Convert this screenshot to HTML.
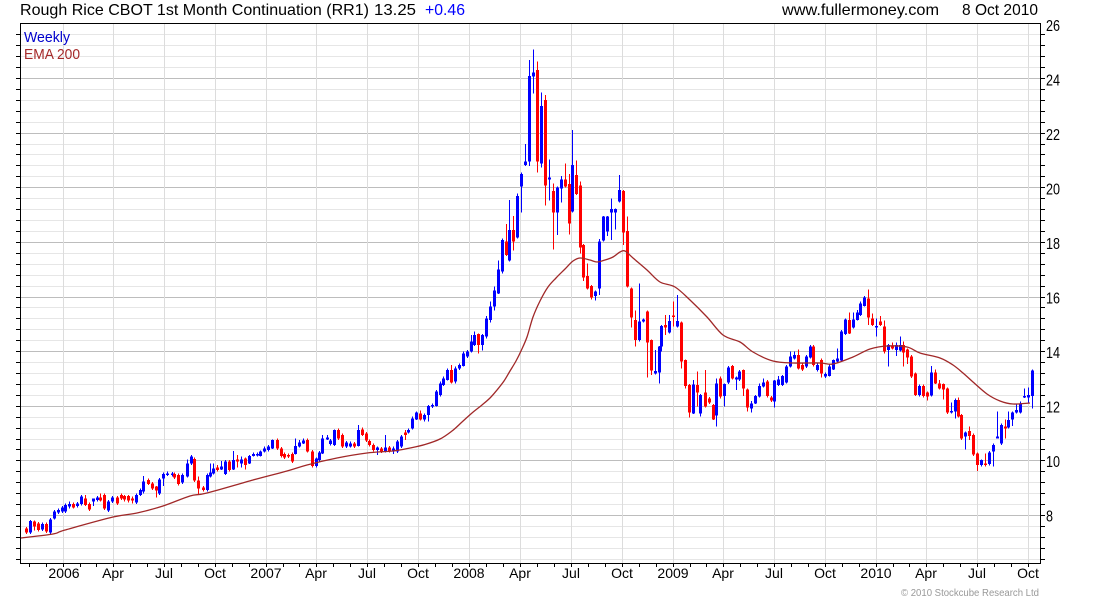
<!DOCTYPE html>
<html><head><meta charset="utf-8"><style>
html,body{margin:0;padding:0;background:#fff;}
svg{display:block;font-family:"Liberation Sans",Arial,sans-serif;}
</style></head><body>
<svg id="chart" width="1100" height="600" viewBox="0 0 1100 600" xmlns="http://www.w3.org/2000/svg">
<rect width="1100" height="600" fill="#fff"/>
<g id="grid" shape-rendering="crispEdges"></g>
<g id="candles" shape-rendering="crispEdges"></g>
<path id="ema" fill="none" stroke="#a02828" stroke-width="1.3" d=""/>
<g id="axes" shape-rendering="crispEdges" stroke="#000" stroke-width="1"></g>
<rect x="20.5" y="23.5" width="1020" height="540" fill="none" stroke="#000" stroke-width="1" shape-rendering="crispEdges"/>
<text x="20" y="15" font-size="16" fill="#000" textLength="349" lengthAdjust="spacingAndGlyphs">Rough Rice CBOT 1st Month Continuation (RR1)</text>
<text x="374" y="15" font-size="16" fill="#000" textLength="42" lengthAdjust="spacingAndGlyphs">13.25</text>
<text x="425" y="15" font-size="16" fill="#0000ff" textLength="40" lengthAdjust="spacingAndGlyphs">+0.46</text>
<text x="782" y="15" font-size="16" fill="#000" textLength="157" lengthAdjust="spacingAndGlyphs">www.fullermoney.com</text>
<text x="962" y="15" font-size="16" fill="#000" textLength="76" lengthAdjust="spacingAndGlyphs">8 Oct 2010</text>
<text x="24" y="42" font-size="15" fill="#0000cc" textLength="46" lengthAdjust="spacingAndGlyphs">Weekly</text>
<text x="24" y="59" font-size="15" fill="#a52a2a" textLength="56" lengthAdjust="spacingAndGlyphs">EMA 200</text>
<g font-size="16" fill="#000">
<text x="1046" y="31" textLength="14" lengthAdjust="spacingAndGlyphs">26</text>
<text x="1046" y="85.5" textLength="14" lengthAdjust="spacingAndGlyphs">24</text>
<text x="1046" y="140" textLength="14" lengthAdjust="spacingAndGlyphs">22</text>
<text x="1046" y="194.5" textLength="14" lengthAdjust="spacingAndGlyphs">20</text>
<text x="1046" y="249" textLength="14" lengthAdjust="spacingAndGlyphs">18</text>
<text x="1046" y="303.5" textLength="14" lengthAdjust="spacingAndGlyphs">16</text>
<text x="1046" y="358" textLength="14" lengthAdjust="spacingAndGlyphs">14</text>
<text x="1046" y="412.5" textLength="14" lengthAdjust="spacingAndGlyphs">12</text>
<text x="1046" y="467" textLength="14" lengthAdjust="spacingAndGlyphs">10</text>
<text x="1046" y="521.5" textLength="7" lengthAdjust="spacingAndGlyphs">8</text>
</g>
<g font-size="14" fill="#000" text-anchor="middle">
<text x="64" y="578">2006</text>
<text x="113" y="578">Apr</text>
<text x="164" y="578">Jul</text>
<text x="215" y="578">Oct</text>
<text x="266" y="578">2007</text>
<text x="316" y="578">Apr</text>
<text x="367" y="578">Jul</text>
<text x="418" y="578">Oct</text>
<text x="469" y="578">2008</text>
<text x="520" y="578">Apr</text>
<text x="571" y="578">Jul</text>
<text x="622" y="578">Oct</text>
<text x="673" y="578">2009</text>
<text x="723" y="578">Apr</text>
<text x="774" y="578">Jul</text>
<text x="825" y="578">Oct</text>
<text x="876" y="578">2010</text>
<text x="926" y="578">Apr</text>
<text x="977" y="578">Jul</text>
<text x="1028" y="578">Oct</text>
</g>
<text x="1039" y="596" font-size="10" fill="#999" text-anchor="end" textLength="138" lengthAdjust="spacingAndGlyphs">© 2010 Stockcube Research Ltd</text>
</svg>
<script>
(function(){
var NS='http://www.w3.org/2000/svg';
function el(tag,a,p){var e=document.createElementNS(NS,tag);for(var k in a)e.setAttribute(k,a[k]);p.appendChild(e);return e;}
var grid=document.getElementById('grid'),axes=document.getElementById('axes'),cg=document.getElementById('candles');
function Y(p){return 78+(24-p)*27.3125;}
for(var i=0;i<=49;i++){
  var p=6.4+i*0.4; var y=Math.round(Y(p))+0.5;
  if(y<24||y>563)continue;
  var major=Math.abs(p-Math.round(p))<0.01 && Math.round(p)%2===0;
  el('line',{x1:21,x2:1040,y1:y,y2:y,stroke:major?'#bdbdbd':'#e6e6e6','stroke-width':1},grid);
  el('line',{x1:16,x2:20,y1:y,y2:y},axes);
  el('line',{x1:1041,x2:1045,y1:y,y2:y},axes);
}
var base=Date.UTC(2006,0,1);
function DX(yr,m){return 63+(Date.UTC(yr,m,1)-base)/86400000*0.5565;}
for(var yr=2005;yr<=2010;yr++){for(var m=0;m<12;m++){
  var x=DX(yr,m); if(x<21||x>1039)continue;
  var xr=Math.round(x)+0.5;
  if(m%3===0) el('line',{x1:xr,x2:xr,y1:24,y2:563,stroke:'#dcdcdc','stroke-width':1},grid);
  el('line',{x1:xr,x2:xr,y1:564,y2:567},axes);
}}
var S=[[20,380,[
[18,0,445,458],[30,1,423,458,420,462],[42,0,425,440,422,452],[55,0,430,450],[67,1,432,448],[78,0,432,455],[90,1,418,458],[103,1,395,415,390,418],[115,1,390,398],[125,1,382,395],[136,1,375,395],[148,1,372,380,365,385],[160,0,372,382,368,385],[172,1,370,378],[183,1,350,372],[196,0,355,375,345,378],[208,0,372,388],[220,1,355,365,355,378],[232,1,353,360],[240,0,352,362,340,365],[252,0,345,385],[265,1,365,392,360,396],[277,1,352,365],[290,0,352,370],[302,0,345,355],[313,0,348,358,345,365],[325,0,348,362,345,368],[337,0,355,362,350,370],[348,1,345,368],[360,1,330,345,325,348],[370,1,305,335,288,340],[383,0,300,312,295,315],[395,0,310,325],[407,0,320,332,318,352],[418,1,298,340],[430,1,282,295,278,318],[442,1,280,285,275,288],[455,1,280,285],[463,0,282,292],[475,0,285,312],[487,1,285,308],[500,1,250,290,238,292],[512,1,230,250],[522,0,237,302],[535,0,302,325,290,342],[548,0,322,330],[560,1,285,330],[570,1,278,290,250,292],[580,1,265,280,250,283],[592,0,262,270,255,275],[604,1,260,268,243,270],[615,1,245,282,240,285],[628,0,245,270],[640,1,240,268,213,270],[652,0,238,245,225,262],[664,1,238,250,230,262],[676,0,235,255,232,268],[687,1,228,250,225,252],[698,1,222,228,218,230],[710,1,222,225],[720,1,215,228,212,230],[733,1,205,215,200,218],[745,1,200,210],[757,1,180,205,178,207],[770,0,180,205],[782,0,205,228],[793,0,222,232],[803,0,225,230],[815,0,222,245],[826,1,198,222,175,224],[838,1,188,200,180,202],[850,1,182,190,175,192],[862,0,180,215,175,217],[875,0,215,258],[887,1,235,258,232,262],[898,1,218,240],[907,1,175,220,165,222],[920,1,172,178,165,180],[931,1,182,192],[942,1,150,195,148,198],[955,0,150,175],[967,0,165,200],[979,1,188,200],[990,1,190,200,185,202],[1003,0,190,200],[1015,1,150,198,135,200],[1025,0,148,165,142,168],[1037,0,160,182],[1048,0,183,195],[1060,0,195,210],[1072,1,202,210,200,225],[1084,0,205,215],[1096,1,202,215,165,217],[1108,0,203,213],[1118,1,205,215,200,222],[1130,1,185,215],[1142,1,170,200],[1154,0,158,165,150,180],[1165,1,150,158,145,160],[1177,1,115,145,110,148],[1188,1,97,118,95,120]
]],[400,40,[
[61,0,1120,1138,1112,1142],[73,1,1125,1138,1120,1145],[85,1,1098,1125,1095,1145],[97,1,1095,1100],[107,1,1055,1098,1050,1100],[119,1,1030,1065,1025,1070],[130,1,1015,1035,1010,1038],[142,1,990,1020,985,1022],[154,0,990,1028,975,1030],[166,1,985,1025,980,1030],[178,1,975,985],[190,1,940,978,935,980],[202,1,935,950],[214,1,905,935,885,938],[223,1,885,915,875,918],[235,0,882,915,880,940],[247,1,885,915,882,932],[259,1,835,890,828,895],[271,1,800,840,785,848],[283,1,752,800,740,812],[295,1,688,760,662,762],[307,1,600,695,595,700],[319,0,605,645,552,648],[328,1,570,662,480,665],[340,0,570,605,528,632],[352,1,468,592,460,595],[364,1,402,440,398,518],[376,1,365,375,312,378],[388,1,108,365,60,378],[400,1,98,110,28,160],[412,0,90,365,65,398],[424,1,198,370,157,382],[436,0,180,437,165,497],[446,1,413,418,358,482],[458,0,453,518,430,628],[470,1,443,518,440,585],[482,1,418,445,408,488],[494,0,418,440,370,442],[506,0,432,550,402,583],[517,1,375,515,270,518],[529,0,405,462,362,465],[541,0,437,622,425,640],[550,0,615,713,612,723],[562,0,708,745,670,748],[574,0,738,773,735,778],[586,1,755,768,752,782],[598,1,605,745,597,765],[610,1,530,602,528,605],[622,1,530,575,528,588],[634,1,507,518,475,600],[646,1,507,518,505,568],[658,1,450,485,405,488],[668,0,453,578,450,615],[680,0,573,740,530,742],[692,0,745,833,742,862],[704,0,840,900,812,920],[716,1,845,900,730,905],[728,1,838,845,835,848],[740,0,815,908,812,1012],[752,0,900,992,898,1005],[764,1,993,1000,930,1003],[776,1,920,998,918,1030],[784,1,858,920,855,935],[796,0,855,862,825,885],[808,1,843,878,825,880],[820,0,826,830,785,860],[832,1,843,860,765,862],[844,0,847,965,845,985],[856,0,960,1038,958,1045],[868,0,1035,1118,1032,1132],[880,1,1033,1120,1020,1122],[892,0,1035,1058,995,1100]
]],[620,270,[
[241,1,375,430,372,440],[254,0,368,410,300,412],[266,0,385,398],[278,0,405,448,402,450],[289,1,340,437,325,470],[301,0,325,380,320,385],[313,1,342,378,340,410],[325,1,292,338],[337,0,288,325,285,328],[347,1,322,328,320,360],[358,1,305,328],[370,0,300,355,298,378],[382,0,358,412,355,425],[394,1,400,415,393,428],[406,1,378,400,375,402],[418,1,348,380,340,382],[430,1,338,350,325,352],[442,0,335,378],[452,0,383,392],[463,1,332,395,330,412],[475,1,328,345,318,348],[487,1,318,345,315,348],[499,1,290,338,285,340],[511,1,260,290,245,292],[523,1,255,265,245,268],[535,0,255,295,238,298],[547,0,285,298],[559,1,260,290],[569,1,230,262,225,265],[580,0,230,285],[592,1,285,300],[604,0,270,310,265,322],[616,1,312,320],[628,1,290,318,282,320],[640,1,270,298,268,300],[652,1,265,275,235,278],[664,1,185,272,180,275],[676,1,148,192,145,195],[686,0,150,190,128,192],[698,1,148,172,128,175],[710,1,128,150,120,152],[720,1,100,135,95,138],[732,1,82,108,78,110],[744,0,85,142,58,165],[756,0,145,165,130,168],[768,1,168,172,145,200],[780,0,155,165,138,168],[792,0,170,245,152,250],[803,1,225,240,222,290],[815,0,228,235,218,238],[827,1,225,240,218,258],[839,1,225,242,200,245],[850,0,225,248,215,290],[862,0,238,262,235,282],[874,0,260,320],[886,0,310,375,308,378],[898,1,348,375],[908,0,348,378],[920,0,368,380,365,392],[932,1,308,377,288,380],[944,0,308,340,298,342],[956,0,340,355,330,358],[968,0,342,358,340,388],[980,0,355,428,352,432],[992,1,423,428,398,430],[1004,1,390,425,385,445],[1013,0,390,440,382,442],[1024,0,435,505,432,510],[1036,1,488,500,485,538],[1048,0,483,498,470,510],[1060,0,495,553],[1072,0,550,585,548,603],[1084,1,570,585,568,590],[1096,0,580,585,550,590],[1108,1,548,582],[1120,1,525,545,520,590],[1130,1,500,505,425,505],[1142,1,465,520],[1154,0,470,475,448,505],[1165,1,450,472,425,475],[1177,1,428,448,425,468],[1189,1,420,428,400,430],[1201,1,400,428,395,430],[1213,1,378,382,355,384],[1225,1,375,382,352,398],[1237,1,302,378,298,415]
]]];
S.forEach(function(s){var ox=s[0],oy=s[1];s[2].forEach(function(c){
  var x=Math.round(ox+c[0]/3),t=oy+c[2]/3,b=oy+c[3]/3;
  var wh=c.length>4?oy+c[4]/3:t-1.5, wl=c.length>5?oy+c[5]/3:b+1.5;
  if(wh>t)wh=t; if(wl<b)wl=b;
  var col=c[1]?'#0000ff':'#ff0000';
  el('rect',{x:x,y:wh.toFixed(1),width:1,height:(wl-wh).toFixed(1),fill:col},cg);
  el('rect',{x:x-1,y:t.toFixed(1),width:3,height:Math.max(b-t,1.5).toFixed(1),fill:col},cg);
});});
var E=[[21,538],[53,534],[65,530],[113,517],[137,513],[163,506],[190,496],[207,493],[253,480],[287,471],[307,465],[337,458],[367,453],[393,451],[410,448],[425,444.5],[440,439],[452,431],[462,422],[472,413],[482,405],[490,398],[497,390],[504,381],[510,371],[516,361],[521,351],[527,337],[533,317],[540,301],[548,287],[556,278],[565,269],[573,261],[580,258],[590,260],[597,262],[605,260],[613,257],[620,252],[625,251],[633,258],[647,270],[660,282],[675,287],[690,300],[707,317],[723,335],[740,342],[753,352],[773,361],[793,363],[820,363],[833,364],[853,357],[870,349],[887,346],[907,347],[920,353],[940,358],[953,365],[963,373],[973,382],[987,394],[1000,401],[1013,404],[1030,403]];
var d='M'+E[0][0]+','+E[0][1];
for(var k=0;k<E.length-1;k++){
  var p0=E[k>0?k-1:0],p1=E[k],p2=E[k+1],p3=E[k+2<E.length?k+2:E.length-1];
  var c1x=p1[0]+(p2[0]-p0[0])/6,c1y=p1[1]+(p2[1]-p0[1])/6;
  var c2x=p2[0]-(p3[0]-p1[0])/6,c2y=p2[1]-(p3[1]-p1[1])/6;
  d+=' C'+c1x.toFixed(1)+','+c1y.toFixed(1)+' '+c2x.toFixed(1)+','+c2y.toFixed(1)+' '+p2[0]+','+p2[1];
}
document.getElementById('ema').setAttribute('d',d);
})();
</script>
</body></html>
